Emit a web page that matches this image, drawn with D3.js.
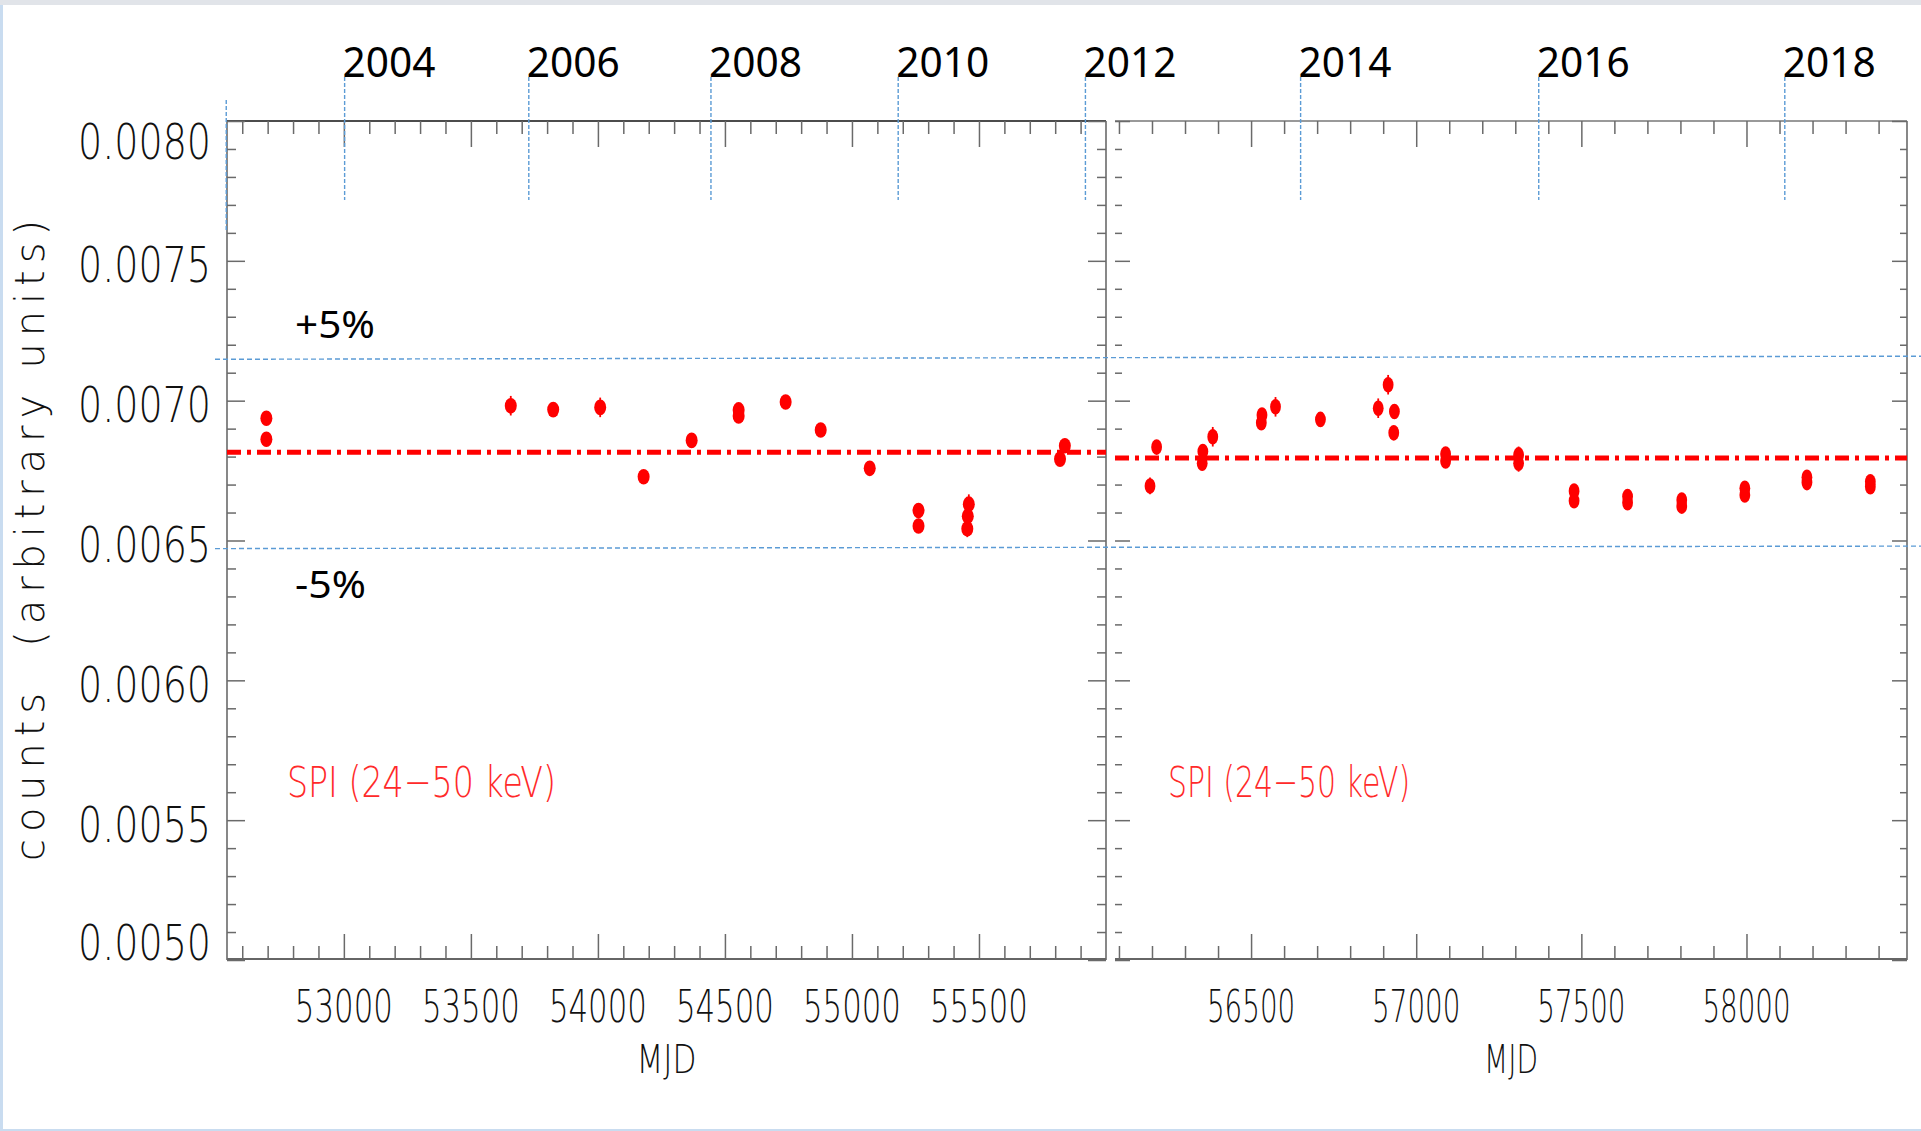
<!DOCTYPE html>
<html>
<head>
<meta charset="utf-8">
<script src="https://cdn.jsdelivr.net/npm/d3@7"></script>
<style>
  html, body { margin: 0; padding: 0; background: #ffffff; }
  svg { display: block; }
</style>
</head>
<body>
<svg id="chart" width="1921" height="1131"></svg>
<script>
// ---------------- DATA ----------------
const yMajorTicks = [0.0050, 0.0055, 0.0060, 0.0065, 0.0070, 0.0075, 0.0080];
const yTickLabels = ["0.0050", "0.0055", "0.0060", "0.0065", "0.0070", "0.0075", "0.0080"];

const xTicksLeft = [53000, 53500, 54000, 54500, 55000, 55500];
const xTickLabelsLeft = ["53000", "53500", "54000", "54500", "55000", "55500"];
const xTicksRight = [56500, 57000, 57500, 58000];
const xTickLabelsRight = ["56500", "57000", "57500", "58000"];

const yearMjdLeft = [52537, 53003, 53728, 54445, 55182, 55919];
const yearLabelsLeft = ["", "2004", "2006", "2008", "2010", "2012"];
const yearMjdRight = [56650, 57371, 58116];
const yearLabelsRight = ["2014", "2016", "2018"];

// left panel (2003-2011)
const leftMjd  = [52695, 52695, 53657, 53824, 54009, 54180, 54369, 54554, 54554, 54739,
                  54877, 55070, 55262, 55262, 55460, 55456, 55454, 55819, 55838];
const leftRate = [0.006937, 0.006862, 0.006982, 0.006968, 0.006976, 0.006728, 0.006858, 0.006967, 0.006945, 0.006995,
                  0.006895, 0.006758, 0.006607, 0.006552, 0.006630, 0.006587, 0.006542, 0.006791, 0.006839];
const leftErr  = [0.000025, 0.000025, 0.000035, 0.000025, 0.000035, 0.000020, 0.000020, 0.000025, 0.000025, 0.000025,
                  0.000020, 0.000020, 0.000025, 0.000025, 0.000035, 0.000025, 0.000030, 0.000025, 0.000025];

// right panel (2012-2018)
const rightMjd  = [56194, 56214, 56354, 56352, 56384, 56533, 56531, 56574, 56710, 56885,
                   56915, 56934, 56932, 57089, 57089, 57310, 57310, 57478, 57478, 57640,
                   57640, 57804, 57804, 57995, 57995, 58183, 58183, 58375, 58375];
const rightRate = [0.006695, 0.006834, 0.006818, 0.006776, 0.006871, 0.006949, 0.006921, 0.006978, 0.006933, 0.006973,
                   0.007057, 0.006961, 0.006885, 0.006809, 0.006784, 0.006806, 0.006776, 0.006677, 0.006642, 0.006657,
                   0.006635, 0.006645, 0.006623, 0.006687, 0.006663, 0.006726, 0.006707, 0.006710, 0.006692];
const rightErr  = [0.000030, 0.000025, 0.000025, 0.000025, 0.000035, 0.000025, 0.000025, 0.000035, 0.000020, 0.000035,
                   0.000035, 0.000025, 0.000025, 0.000025, 0.000025, 0.000030, 0.000030, 0.000025, 0.000025, 0.000025,
                   0.000025, 0.000025, 0.000025, 0.000025, 0.000025, 0.000025, 0.000025, 0.000025, 0.000025];

const meanLeft = 0.006816;
const meanRight = 0.006795;
const plus5Line = [0.007148, 0.007159];   // value at left end, right end
const minus5Line = [0.006471, 0.006480];
const bandLabels = ["+5%", "-5%"];
const panelLabel = "SPI (24\u221250 keV)";
const xTitle = "MJD";
const yTitle = "counts  (arbitrary units)";

// ---------------- LAYOUT ----------------
const svg = d3.select("#chart");
const W = 1921, H = 1131;
const yTop = 121, yBot = 960;
const L = {x0: 227, x1: 1106, sx: 1.0};
const R = {x0: 1115, x1: 1907, sx: 0.9};

const thinFont = "'DejaVu Sans', 'Liberation Sans', sans-serif";
const yearFont = "'Noto Sans', 'Liberation Sans', sans-serif";
const axisCol = "#6a6a6a";
const red = "#ff0000";
const blue = "#5b9bd5";

// background / slide frame
svg.append("rect").attr("x", 0).attr("y", 0).attr("width", W).attr("height", H).attr("fill", "#fff");
svg.append("rect").attr("x", 0).attr("y", 0).attr("width", W).attr("height", 5).attr("fill", "#e1e4e9");
svg.append("rect").attr("x", 0).attr("y", 5).attr("width", 3).attr("height", H - 5).attr("fill", "#c9dcf0");
svg.append("rect").attr("x", 0).attr("y", H - 2).attr("width", W).attr("height", 2).attr("fill", "#c9dcf0");

const y = d3.scaleLinear().domain([0.0050, 0.0080]).range([yBot, yTop]);
const xL = d3.scaleLinear().domain([52540, 56000]).range([L.x0, L.x1]);
const xR = d3.scaleLinear().domain([56088, 58486]).range([R.x0, R.x1]);

const yMinor = d3.range(51, 80).map(d => d / 10000).filter(v => Math.round(v * 10000) % 5 !== 0);

function minorX(scale, step) {
  const [a, b] = scale.domain();
  return d3.range(Math.ceil(a / step) * step, b + 1, step).filter(v => v % 500 !== 0);
}

function styleAxis(g) {
  g.select(".domain").remove();
  g.selectAll("line").attr("stroke", axisCol).attr("stroke-width", 1.5);
}

function drawPanel(P, x, opts) {
  const g = svg.append("g");
  // frame lines
  g.append("line").attr("x1", P.x0).attr("x2", P.x1).attr("y1", yTop).attr("y2", yTop)
    .attr("stroke", opts.topCol).attr("stroke-width", 1.6);
  g.append("line").attr("x1", P.x0).attr("x2", P.x1).attr("y1", yBot - 1).attr("y2", yBot - 1)
    .attr("stroke", "#333").attr("stroke-width", 1.6);
  if (opts.leftLine) {
    g.append("line").attr("x1", P.x0).attr("x2", P.x0).attr("y1", yTop).attr("y2", yBot)
      .attr("stroke", axisCol).attr("stroke-width", 1.6);
  }
  g.append("line").attr("x1", P.x1).attr("x2", P.x1).attr("y1", yTop).attr("y2", yBot)
    .attr("stroke", axisCol).attr("stroke-width", 1.6);

  const minors = minorX(x, 100);
  const majors = opts.majors;
  // bottom ticks (pointing up)
  g.append("g").attr("transform", `translate(0,${yBot - 1})`)
    .call(d3.axisTop(x).tickValues(majors).tickSize(25).tickFormat("")).call(styleAxis);
  g.append("g").attr("transform", `translate(0,${yBot - 1})`)
    .call(d3.axisTop(x).tickValues(minors).tickSize(13).tickFormat("")).call(styleAxis);
  // top ticks (pointing down)
  g.append("g").attr("transform", `translate(0,${yTop})`)
    .call(d3.axisBottom(x).tickValues(majors).tickSize(26).tickFormat("")).call(styleAxis);
  g.append("g").attr("transform", `translate(0,${yTop})`)
    .call(d3.axisBottom(x).tickValues(minors).tickSize(13).tickFormat("")).call(styleAxis);
  // left ticks (pointing right)
  g.append("g").attr("transform", `translate(${P.x0},0)`)
    .call(d3.axisRight(y).tickValues(yMajorTicks).tickSize(opts.yMajLen).tickFormat("")).call(styleAxis);
  g.append("g").attr("transform", `translate(${P.x0},0)`)
    .call(d3.axisRight(y).tickValues(yMinor).tickSize(opts.yMinLen).tickFormat("")).call(styleAxis);
  // right ticks (pointing left)
  g.append("g").attr("transform", `translate(${P.x1},0)`)
    .call(d3.axisLeft(y).tickValues(yMajorTicks).tickSize(opts.yMajLen).tickFormat("")).call(styleAxis);
  g.append("g").attr("transform", `translate(${P.x1},0)`)
    .call(d3.axisLeft(y).tickValues(yMinor).tickSize(opts.yMinLen).tickFormat("")).call(styleAxis);

  // x tick labels
  g.selectAll("text.xl").data(majors).enter().append("text")
    .attr("class", "xl")
    .attr("x", d => x(d)).attr("y", 1022)
    .attr("text-anchor", "middle")
    .attr("font-family", thinFont).attr("font-weight", 200).attr("font-size", 44)
    .attr("textLength", 98 * P.sx).attr("lengthAdjust", "spacingAndGlyphs")
    .attr("fill", "#111")
    .text((d, i) => opts.majorLabels[i]);

  // x title
  g.append("text").attr("x", (P.x0 + P.x1) / 2).attr("y", 1073)
    .attr("text-anchor", "middle")
    .attr("font-family", thinFont).attr("font-weight", 200).attr("font-size", 38.5)
    .attr("textLength", 60 * P.sx).attr("lengthAdjust", "spacingAndGlyphs")
    .attr("fill", "#111").text(xTitle);

  // mean line
  g.append("line").attr("x1", P.x0).attr("x2", P.x1)
    .attr("y1", y(opts.mean)).attr("y2", y(opts.mean))
    .attr("stroke", red).attr("stroke-width", 5)
    .attr("stroke-dasharray", "14 6 4 6");

  // data points with error bars
  const pts = opts.mjd.map((m, i) => ({m, v: opts.rate[i], e: opts.err[i]}));
  g.selectAll("line.err").data(pts).enter().append("line")
    .attr("class", "err")
    .attr("x1", d => x(d.m)).attr("x2", d => x(d.m))
    .attr("y1", d => y(d.v - d.e)).attr("y2", d => y(d.v + d.e))
    .attr("stroke", red).attr("stroke-width", 1.8);
  g.selectAll("ellipse.pt").data(pts).enter().append("ellipse")
    .attr("class", "pt")
    .attr("cx", d => x(d.m)).attr("cy", d => y(d.v))
    .attr("rx", 6 * P.sx).attr("ry", 7.8)
    .attr("fill", red);

  // SPI label
  g.append("text").attr("x", opts.spiX).attr("y", 797)
    .attr("font-family", thinFont).attr("font-weight", 200).attr("font-size", 43.5)
    .attr("textLength", 269 * P.sx).attr("lengthAdjust", "spacingAndGlyphs")
    .attr("fill", "#ff2a2a").text(panelLabel);

  // year markers
  const yr = opts.years.map((m, i) => ({m, t: opts.yearLabels[i]}));
  g.selectAll("line.yr").data(yr).enter().append("line")
    .attr("class", "yr")
    .attr("x1", d => x(d.m)).attr("x2", d => x(d.m))
    .attr("y1", d => d.t === "" ? 100 : 77).attr("y2", d => d.t === "" ? 230 : 200)
    .attr("stroke", blue).attr("stroke-width", 1.4).attr("stroke-dasharray", "4 2");
  g.selectAll("text.yr").data(yr.filter(d => d.t !== "")).enter().append("text")
    .attr("class", "yr")
    .attr("x", d => x(d.m) - 2).attr("y", 77)
    .attr("font-family", yearFont).attr("font-weight", 400).attr("font-size", 41)
    .attr("textLength", 93).attr("lengthAdjust", "spacingAndGlyphs")
    .attr("fill", "#000").text(d => d.t);
}

drawPanel(L, xL, {
  topCol: "#111", leftLine: true, majors: xTicksLeft, majorLabels: xTickLabelsLeft,
  yMajLen: 18, yMinLen: 9, mean: meanLeft, mjd: leftMjd, rate: leftRate, err: leftErr,
  spiX: 287, years: yearMjdLeft, yearLabels: yearLabelsLeft
});
drawPanel(R, xR, {
  topCol: "#777", leftLine: false, majors: xTicksRight, majorLabels: xTickLabelsRight,
  yMajLen: 15, yMinLen: 7, mean: meanRight, mjd: rightMjd, rate: rightRate, err: rightErr,
  spiX: 1168, years: yearMjdRight, yearLabels: yearLabelsRight
});

// y tick labels (left panel)
svg.selectAll("text.yl").data(yMajorTicks).enter().append("text")
  .attr("class", "yl")
  .attr("x", 211)
  .attr("y", d => Math.max(yTop + 19, Math.min(yBot - 19, y(d) + 3)) + 18.5)
  .attr("text-anchor", "end")
  .attr("font-family", thinFont).attr("font-weight", 200).attr("font-size", 50.5)
  .attr("textLength", 133).attr("lengthAdjust", "spacingAndGlyphs")
  .attr("fill", "#111")
  .text((d, i) => yTickLabels[i]);

// y title
svg.append("text")
  .attr("transform", `translate(43.5,${(220 + 861) / 2}) rotate(-90)`)
  .attr("text-anchor", "middle")
  .attr("font-family", thinFont).attr("font-weight", 200).attr("font-size", 40)
  .attr("textLength", 641).attr("lengthAdjust", "spacing")
  .attr("fill", "#111")
  .style("white-space", "pre")
  .text(yTitle);

// +/-5% band lines, spanning both panels
const bandX0 = 215, bandX1 = W;
[plus5Line, minus5Line].forEach((vals, i) => {
  svg.append("line")
    .attr("x1", bandX0).attr("x2", bandX1)
    .attr("y1", y(vals[0])).attr("y2", y(vals[1]))
    .attr("stroke", blue).attr("stroke-width", 1.4).attr("stroke-dasharray", "5 3");
  svg.append("text")
    .attr("x", 295).attr("y", i === 0 ? 338 : 598)
    .attr("font-family", yearFont).attr("font-weight", 400).attr("font-size", 39)
    .attr("textLength", i === 0 ? 80 : 71).attr("lengthAdjust", "spacingAndGlyphs")
    .attr("fill", "#000").text(bandLabels[i]);
});
</script>
</body>
</html>
